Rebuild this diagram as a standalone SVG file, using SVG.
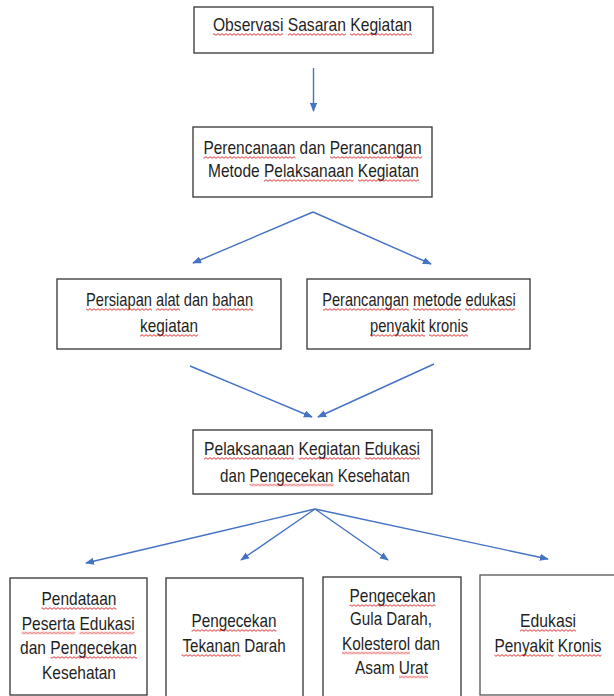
<svg xmlns="http://www.w3.org/2000/svg" width="614" height="696" viewBox="0 0 614 696">
<style>
.box{fill:#fff;stroke:#333;stroke-width:1.3}
.t{font-family:"Liberation Sans",Arial,sans-serif;font-size:18px;fill:#1f1f1f;text-anchor:middle}
.c{fill:none;stroke:#4472C4;stroke-width:1.4;marker-end:url(#ah)}
.sq{fill:url(#wave)}
</style>
<defs>
<marker id="ah" viewBox="0 0 10 8" refX="9" refY="4" markerWidth="9" markerHeight="7.5" markerUnits="userSpaceOnUse" orient="auto">
<path d="M0,0 L10,4 L0,8 z" fill="#4472C4"/>
</marker>
<pattern id="wave" x="0" y="0" width="4" height="3" patternUnits="userSpaceOnUse">
<path d="M0,2.3 L2,0.7 L4,2.3" fill="none" stroke="#e02020" stroke-width="0.9"/>
</pattern>
</defs>
<rect width="614" height="696" fill="#fff"/>

<g id="connectors">
<line class="c" x1="313.5" y1="68" x2="313.5" y2="111"/>
<line class="c" x1="313" y1="212" x2="193" y2="263"/>
<line class="c" x1="313" y1="212" x2="431" y2="264"/>
<line class="c" x1="190" y1="366" x2="312" y2="417"/>
<line class="c" x1="434" y1="364" x2="318" y2="417"/>
<line class="c" x1="315" y1="509" x2="86" y2="563"/>
<line class="c" x1="315" y1="509" x2="241" y2="560"/>
<line class="c" x1="315" y1="509" x2="388" y2="560"/>
<line class="c" x1="315" y1="509" x2="548" y2="559"/>
</g>

<g id="n1">
<rect class="box" x="194" y="7" width="239" height="46"/>
<text class="t" transform="matrix(0.869 0 0 1 312.5 31)">Observasi Sasaran Kegiatan</text>
<g transform="translate(0,33)"><rect class="sq" x="213" y="0" width="70" height="3"/><rect class="sq" x="288" y="0" width="58" height="3"/><rect class="sq" x="350" y="0" width="62" height="3"/></g>
</g>

<g id="n2">
<rect class="box" x="193" y="127" width="239" height="70"/>
<text class="t" transform="matrix(0.858 0 0 1 312.5 154)">Perencanaan dan Perancangan</text>
<text class="t" transform="matrix(0.861 0 0 1 313.5 177)">Metode Pelaksanaan Kegiatan</text>
<g transform="translate(0,156)"><rect class="sq" x="203.5" y="0" width="92" height="3"/><rect class="sq" x="330" y="0" width="92" height="3"/></g>
<g transform="translate(0,179)"><rect class="sq" x="264" y="0" width="89.5" height="3"/><rect class="sq" x="358" y="0" width="61" height="3"/></g>
</g>

<g id="n3">
<rect class="box" x="57" y="279" width="224" height="70"/>
<text class="t" transform="matrix(0.815 0 0 1 169.5 306)">Persiapan alat dan bahan</text>
<text class="t" transform="matrix(0.853 0 0 1 169 332)">kegiatan</text>
<g transform="translate(0,308)"><rect class="sq" x="86" y="0" width="66" height="3"/><rect class="sq" x="156" y="0" width="24" height="3"/><rect class="sq" x="212" y="0" width="41" height="3"/></g>
<g transform="translate(0,334)"><rect class="sq" x="140" y="0" width="58" height="3"/></g>
</g>

<g id="n4">
<rect class="box" x="307" y="279" width="223" height="70"/>
<text class="t" transform="matrix(0.81 0 0 1 419 306)">Perancangan metode edukasi</text>
<text class="t" transform="matrix(0.817 0 0 1 419 332)">penyakit kronis</text>
<g transform="translate(0,308)"><rect class="sq" x="323" y="0" width="86" height="3"/><rect class="sq" x="413" y="0" width="48" height="3"/><rect class="sq" x="465" y="0" width="50" height="3"/></g>
<g transform="translate(0,334)"><rect class="sq" x="370" y="0" width="55" height="3"/><rect class="sq" x="429" y="0" width="39" height="3"/></g>
</g>

<g id="n5">
<rect class="box" x="193" y="430" width="239" height="64"/>
<text class="t" transform="matrix(0.867 0 0 1 312 455)">Pelaksanaan Kegiatan Edukasi</text>
<text class="t" transform="matrix(0.84 0 0 1 315 481.5)">dan Pengecekan Kesehatan</text>
<g transform="translate(0,457)"><rect class="sq" x="204" y="0" width="90" height="3"/><rect class="sq" x="298.5" y="0" width="62" height="3"/><rect class="sq" x="364.5" y="0" width="55.5" height="3"/></g>
<g transform="translate(0,483.5)"><rect class="sq" x="249.5" y="0" width="84" height="3"/></g>
</g>

<g id="n6">
<rect class="box" x="10" y="578" width="137" height="117"/>
<text class="t" transform="matrix(0.861 0 0 1 79 605)">Pendataan</text>
<text class="t" transform="matrix(0.862 0 0 1 78.2 629.5)">Peserta Edukasi</text>
<text class="t" transform="matrix(0.866 0 0 1 78.5 654)">dan Pengecekan</text>
<text class="t" transform="matrix(0.86 0 0 1 79 679)">Kesehatan</text>
<g transform="translate(0,607)"><rect class="sq" x="41.5" y="0" width="75" height="3"/></g>
<g transform="translate(0,631.5)"><rect class="sq" x="21.7" y="0" width="53.5" height="3"/><rect class="sq" x="79.5" y="0" width="55" height="3"/></g>
<g transform="translate(0,656)"><rect class="sq" x="50.5" y="0" width="86.5" height="3"/></g>
</g>

<g id="n7">
<rect class="box" x="166" y="578" width="137" height="122"/>
<text class="t" transform="matrix(0.85 0 0 1 234 627)">Pengecekan</text>
<text class="t" transform="matrix(0.846 0 0 1 234 652)">Tekanan Darah</text>
<g transform="translate(0,629)"><rect class="sq" x="191.5" y="0" width="85" height="3"/></g>
<g transform="translate(0,654)"><rect class="sq" x="181.5" y="0" width="59" height="3"/></g>
</g>

<g id="n8">
<rect class="box" x="323" y="577" width="138" height="123"/>
<text class="t" transform="matrix(0.86 0 0 1 392.5 602)">Pengecekan</text>
<text class="t" transform="matrix(0.845 0 0 1 391 625)">Gula Darah,</text>
<text class="t" transform="matrix(0.852 0 0 1 391 649.5)">Kolesterol dan</text>
<text class="t" transform="matrix(0.859 0 0 1 391.5 673.5)">Asam Urat</text>
<g transform="translate(0,604)"><rect class="sq" x="349.5" y="0" width="86" height="3"/></g>
<g transform="translate(0,651.5)"><rect class="sq" x="342" y="0" width="68" height="3"/></g>
<g transform="translate(0,675.5)"><rect class="sq" x="399" y="0" width="29" height="3"/></g>
</g>

<g id="n9">
<rect class="box" x="480" y="575" width="140" height="120" style="stroke:#555"/>
<text class="t" transform="matrix(0.875 0 0 1 548 627)">Edukasi</text>
<text class="t" transform="matrix(0.856 0 0 1 548 652)">Penyakit Kronis</text>
<g transform="translate(0,629)"><rect class="sq" x="520" y="0" width="56" height="3"/></g>
<g transform="translate(0,654)"><rect class="sq" x="494.5" y="0" width="59" height="3"/><rect class="sq" x="558" y="0" width="43.5" height="3"/></g>
</g>
</svg>
